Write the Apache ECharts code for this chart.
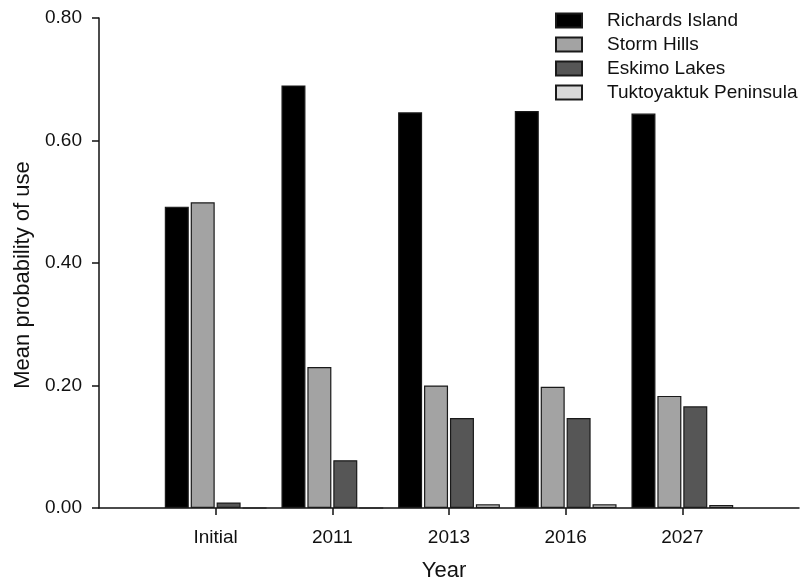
<!DOCTYPE html>
<html>
<head>
<meta charset="utf-8">
<script src="https://cdn.jsdelivr.net/npm/echarts@6/dist/echarts.min.js"></script>
<style>
  html, body { margin: 0; padding: 0; background: #fff; }
  #chart { width: 802px; height: 582px; }
</style>
</head>
<body>
<div id="chart"></div>
<script>
// Sampling periods on the horizontal axis
const periods = ['Initial', '2011', '2013', '2016', '2027'];

// Mean probability of use per region
const richardsIsland = [0.492, 0.690, 0.646, 0.648, 0.644];
const stormHills = [0.499, 0.230, 0.200, 0.198, 0.183];
const eskimoLakes = [0.009, 0.078, 0.147, 0.147, 0.166];
const tuktoyaktukPeninsula = [0, 0, 0.006, 0.006, 0.005];

const yTicks = [0, 0.2, 0.4, 0.6, 0.8];

const seriesDefs = [
  { name: 'Richards Island', values: richardsIsland, color: '#000000' },
  { name: 'Storm Hills', values: stormHills, color: '#a3a3a3' },
  { name: 'Eskimo Lakes', values: eskimoLakes, color: '#565656' },
  { name: 'Tuktoyaktuk Peninsula', values: tuktoyaktukPeninsula, color: '#d8d8d8' }
];

// Periods sit at positions 1..N on a numeric axis so the axis line can extend past the groups
const positions = periods.map((_, i) => i + 1);
const FONT = '"Liberation Sans", Arial, sans-serif';

const chart = echarts.init(document.getElementById('chart'), null, { renderer: 'canvas' });

chart.setOption({
  animation: false,
  backgroundColor: '#ffffff',
  textStyle: { fontFamily: FONT },
  grid: { left: 99, right: 3, top: 18, bottom: 74, containLabel: false, outerBoundsMode: 'none' },
  legend: {
    orient: 'vertical',
    left: 550,
    top: 6,
    itemWidth: 26,
    itemHeight: 14,
    itemGap: 5,
    icon: 'rect',
    textStyle: { fontFamily: FONT, fontSize: 19, color: '#111', padding: [0, 0, 0, 20] },
    data: seriesDefs.map(s => s.name)
  },
  xAxis: {
    type: 'value',
    min: 0,
    max: 6,
    interval: 1,
    name: 'Year',
    nameLocation: 'middle',
    nameGap: 52,
    nameTextStyle: { fontFamily: FONT, fontSize: 22, color: '#111', padding: [0, 10, 0, 0] },
    axisLine: { show: true, lineStyle: { color: '#111', width: 1.5 } },
    axisTick: { show: true, length: 7, customValues: positions, lineStyle: { color: '#111', width: 1.5 } },
    axisLabel: {
      customValues: positions,
      margin: 20,
      fontFamily: FONT,
      fontSize: 19,
      color: '#111',
      formatter: v => periods[Math.round(v) - 1] || ''
    },
    splitLine: { show: false }
  },
  yAxis: {
    type: 'value',
    min: 0,
    max: 0.8,
    interval: 0.2,
    name: 'Mean probability of use',
    nameLocation: 'middle',
    nameGap: 52,
    nameTextStyle: { fontFamily: FONT, fontSize: 22, color: '#111', padding: [0, 24, 0, 0] },
    axisLine: { show: true, lineStyle: { color: '#111', width: 1.5 } },
    axisTick: { show: true, length: 7, lineStyle: { color: '#111', width: 1.5 } },
    axisLabel: {
      margin: 17,
      fontFamily: FONT,
      fontSize: 19,
      color: '#111',
      customValues: yTicks,
      formatter: v => v.toFixed(2)
    },
    splitLine: { show: false }
  },
  series: seriesDefs.map(s => ({
    type: 'bar',
    name: s.name,
    barWidth: 24,
    barGap: '8%',
    itemStyle: {
      color: s.color,
      borderColor: '#1a1a1a',
      borderWidth: 1.2
    },
    data: s.values.map((v, i) => [positions[i], v])
  }))
});
</script>
</body>
</html>
